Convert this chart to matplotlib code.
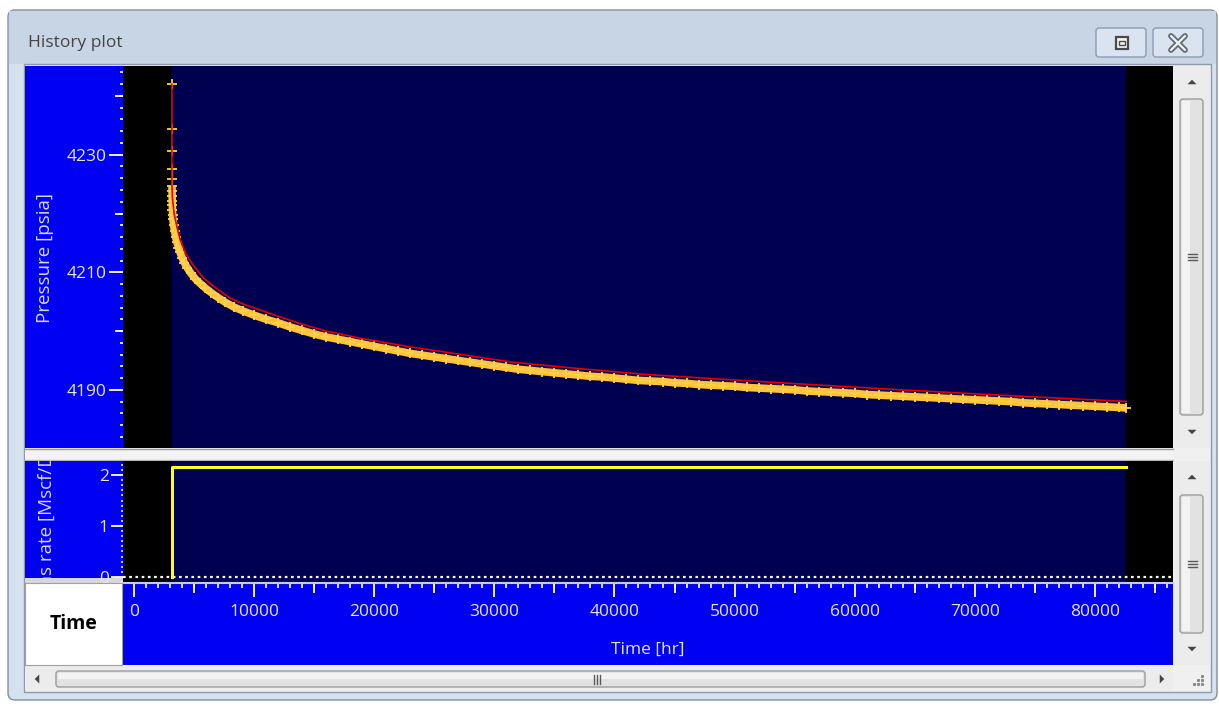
import numpy as np
import matplotlib.pyplot as plt
from matplotlib.patches import Rectangle, FancyBboxPatch, Polygon
from matplotlib.ticker import MultipleLocator

# ===================== data =====================
# gas rate history (hr, Mscf/D)
rate_time = [3150, 3150, 82600]
rate_value = [0.0, 2.16, 2.16]

# simulated pressure response (hr, psia)
model_time = [3150, 3155, 3200, 3350, 3580, 3830, 4300, 4900, 5800, 6900,
              8000, 9200, 10500, 12000, 13200, 14600, 16000, 18800, 22700,
              26300, 31500, 37100, 42700, 48200, 53800, 58800, 63800, 69300,
              74900, 81800, 82600]
model_pressure = [4242.0, 4225.0, 4222.6, 4219.8, 4217.7, 4215.6, 4213.2,
                  4211.3, 4209.0, 4207.2, 4205.6, 4204.5, 4203.6, 4202.5,
                  4201.7, 4200.8, 4200.0, 4198.8, 4197.4, 4196.3, 4194.7,
                  4193.6, 4192.6, 4191.9, 4191.2, 4190.6, 4190.0, 4189.4,
                  4188.8, 4188.1, 4188.0]

# measured gauge pressure (hr, psia)
gauge_time = [3150, 3152, 3155, 3158, 3162, 3166, 3170, 3175, 3180, 3190,
              3200, 3215, 3240, 3300, 3380, 3470, 3580, 3700, 3830, 4000,
              4200, 4450, 4750, 5100, 5500, 5950, 6450, 7000, 7600, 8300,
              9100, 10000, 11000, 12000, 13000, 14000, 15000, 16000, 17000,
              18000, 19000, 20000, 21000, 22000, 23000, 24000, 25000, 26000,
              27000, 28000, 29000, 30000, 31000, 32000, 33000, 34000, 35000,
              36000, 37000, 38000, 39000, 40000, 41000, 42000, 43000, 44000,
              45000, 46000, 47000, 48000, 49000, 50000, 51000, 52000, 53000,
              54000, 55000, 56000, 57000, 58000, 59000, 60000, 61000, 62000,
              63000, 64000, 65000, 66000, 67000, 68000, 69000, 70000, 71000,
              72000, 73000, 74000, 75000, 76000, 77000, 78000, 79000, 80000,
              81000, 82000, 82600]
gauge_pressure = [4242.0, 4234.4, 4230.7, 4227.6, 4225.9, 4224.7, 4223.8,
                  4223.0, 4222.2, 4221.4, 4220.6, 4219.8, 4219.0, 4218.0,
                  4217.0, 4216.0, 4215.1, 4214.2, 4213.4, 4212.5, 4211.6,
                  4210.7, 4209.8, 4208.9, 4208.1, 4207.3, 4206.5, 4205.7,
                  4204.9, 4204.1, 4203.4, 4202.7, 4202.0, 4201.4, 4200.7,
                  4200.1, 4199.5, 4199.0, 4198.6, 4198.2, 4197.8, 4197.4,
                  4197.0, 4196.6, 4196.2, 4195.9, 4195.6, 4195.3, 4195.0,
                  4194.7, 4194.4, 4194.1, 4193.8, 4193.5, 4193.3, 4193.1,
                  4192.9, 4192.7, 4192.5, 4192.3, 4192.2, 4192.0, 4191.8,
                  4191.6, 4191.5, 4191.4, 4191.2, 4191.1, 4190.9, 4190.8,
                  4190.7, 4190.6, 4190.4, 4190.3, 4190.2, 4190.1, 4190.0,
                  4189.8, 4189.7, 4189.6, 4189.5, 4189.4, 4189.2, 4189.1,
                  4189.0, 4188.9, 4188.8, 4188.7, 4188.6, 4188.5, 4188.4,
                  4188.3, 4188.2, 4188.1, 4188.0, 4187.8, 4187.7, 4187.6,
                  4187.5, 4187.4, 4187.3, 4187.2, 4187.1, 4187.0, 4186.9]

time_ticks = [0, 10000, 20000, 30000, 40000, 50000, 60000, 70000, 80000]
pressure_ticks = [4190, 4210, 4230]
rate_ticks = [0, 1, 2]
# =================================================

W, H = 1219, 709
PX = 0.72  # points per pixel at dpi 100

BLUE = '#0000f2'
NAVY = '#000050'
TICKTXT = '#e4e4ff'
plt.rcParams['font.family'] = ['Open Sans', 'DejaVu Sans']


def box(x0, y0, x1, y1):
    """pixel box (top-left origin) -> figure fraction rect"""
    return [x0 / W, 1 - y1 / H, (x1 - x0) / W, (y1 - y0) / H]


fig = plt.figure(figsize=(W / 100, H / 100), dpi=100, facecolor='white')

# ---------- window frame ----------
bg = fig.add_axes([0, 0, 1, 1])
bg.set_xlim(0, W)
bg.set_ylim(H, 0)
bg.axis('off')


def rect(x0, y0, x1, y1, fc, ec='none', lw=0, z=1):
    bg.add_patch(Rectangle((x0, y0), x1 - x0, y1 - y0, facecolor=fc,
                           edgecolor=ec, lw=lw, zorder=z))


bg.add_patch(FancyBboxPatch((8, 10), 1209, 690,
                            boxstyle='round,pad=0,rounding_size=7',
                            fc='#d5e1ee', ec='#7f8fa2', lw=1, zorder=0))
rect(9, 11, 1216, 64, '#c7d5e5')
rect(24, 64, 1211, 692, '#f0f0f0', ec='#8c9aab', lw=1)
bg.text(28, 43, 'History plot', fontsize=12.5, color='#454545', va='center')

# title bar buttons
for bx in (1096, 1153):
    bg.add_patch(FancyBboxPatch((bx, 28), 50, 29,
                                boxstyle='round,pad=0,rounding_size=3',
                                fc='#d9e4f0', ec='#8a9cb2', lw=1, zorder=2))
rect(1116, 37, 1128, 49, '#f4f4f4', ec='#4a4a4a', lw=1.6, z=3)
rect(1119, 41, 1125, 45, '#f4f4f4', ec='#4a4a4a', lw=1.0, z=3)
for (xa, ya, xb, yb) in [(1171, 36, 1185, 50), (1171, 50, 1185, 36)]:
    bg.plot([xa, xb], [ya, yb], color='#5f6b78', lw=4.2, solid_capstyle='round', zorder=3)
    bg.plot([xa, xb], [ya, yb], color='#f2f4f6', lw=1.6, solid_capstyle='round', zorder=4)

# label columns and axis strip
rect(25, 66, 123, 448, BLUE, z=2)
rect(25, 448, 1173, 461, '#f3f3f3', z=2)
bg.plot([25, 1173], [449, 449], color='#9a9a9a', lw=1, zorder=3)
bg.plot([25, 1173], [460, 460], color='#b8b8b8', lw=1, zorder=3)
rect(25, 578, 123, 583, '#d8d8d8', z=2)
rect(123, 583, 1173, 665, BLUE, z=2)
bg.text(45, 258, 'Pressure [psia]', rotation=90, fontsize=13.5,
        color='#d6d6ff', ha='center', va='center', zorder=4)


# scrollbars
def arrow(xc, yc, d, s=4.5):
    if d == 'up':
        pts = [(xc - s, yc + s / 2), (xc + s, yc + s / 2), (xc, yc - s / 2)]
    elif d == 'down':
        pts = [(xc - s, yc - s / 2), (xc + s, yc - s / 2), (xc, yc + s / 2)]
    elif d == 'left':
        pts = [(xc + s / 2, yc - s), (xc + s / 2, yc + s), (xc - s / 2, yc)]
    else:
        pts = [(xc - s / 2, yc - s), (xc - s / 2, yc + s), (xc + s / 2, yc)]
    bg.add_patch(Polygon(pts, closed=True, fc='#454545', ec='none', zorder=5))


def vscroll(y0, y1, t0, t1):
    rect(1174, y0, 1210, y1, '#ececec', z=2)
    bg.add_patch(FancyBboxPatch((1180, t0), 23, t1 - t0,
                                boxstyle='round,pad=0,rounding_size=3',
                                fc='#e2e2e2', ec='#9c9c9c', lw=1, zorder=3))
    rect(1182, t0 + 2, 1190, t1 - 2, '#f3f3f3', z=4)
    arrow(1192, y0 + 16, 'up')
    arrow(1192, y1 - 16, 'down')
    ym = (t0 + t1) / 2
    for dy in (-3, 0, 3):
        bg.plot([1188, 1197], [ym + dy, ym + dy], color='#5a5a5a', lw=1, zorder=5)


vscroll(66, 448, 99, 415)
vscroll(461, 665, 495, 633)

rect(25, 666, 1173, 690, '#ececec', z=2)
bg.add_patch(FancyBboxPatch((56, 671), 1089, 16,
                            boxstyle='round,pad=0,rounding_size=3',
                            fc='#e2e2e2', ec='#9c9c9c', lw=1, zorder=3))
rect(58, 673, 1143, 679, '#f3f3f3', z=4)
arrow(37, 679, 'left')
arrow(1162, 679, 'right')
for dx in (-3, 0, 3):
    bg.plot([597 + dx, 597 + dx], [675, 684], color='#5a5a5a', lw=1, zorder=5)
for (gx, gy) in [(1202, 676), (1198, 680), (1202, 680), (1194, 684), (1198, 684), (1202, 684)]:
    bg.plot(gx, gy, 's', ms=1.2, color='#8a8a8a', zorder=5)

# ---------- pressure panel ----------
t_start, t_end = rate_time[0], rate_time[-1]
xlim = (-915, 86500)

axp = fig.add_axes(box(123, 66, 1173, 448))
axp.set_facecolor(NAVY)
axp.set_xlim(*xlim)
axp.set_ylim(4180.1, 4245.1)
axp.axvspan(xlim[0], t_start, color='black', lw=0, zorder=0)
axp.axvspan(t_end, xlim[1], color='black', lw=0, zorder=0)
# first few gauge readings are sparse, the dense band starts after them
axp.plot(gauge_time[5:], gauge_pressure[5:], color='#ffc23a', lw=5.5, zorder=2,
         solid_capstyle='butt')
axp.plot(gauge_time, gauge_pressure, '+', color='#ffd24a', ms=7.5, mew=1.3, zorder=3)
axp.plot(model_time, model_pressure, color='#e40000', lw=1.2, zorder=4)
for s in axp.spines.values():
    s.set_visible(False)
axp.set_xticks([])
axp.set_yticks(pressure_ticks)
axp.yaxis.set_minor_locator(MultipleLocator(2))
axp.tick_params(axis='y', which='major', direction='out', length=14 * PX,
                width=1.3, color='white', labelcolor=TICKTXT, labelsize=12.5, pad=1.5)
axp.tick_params(axis='y', which='minor', direction='out', length=3 * PX,
                width=1.2, color='white')
secp = axp.secondary_yaxis('left')
secp.set_yticks([4200, 4220, 4240])
secp.tick_params(length=8 * PX, width=1.3, color='white', labelleft=False)
secp.spines['left'].set_visible(False)

# ---------- gas rate panel ----------
lab = fig.add_axes(box(25, 461, 123, 578))
lab.set_facecolor(BLUE)
lab.set_xticks([])
lab.set_yticks([])
for s in lab.spines.values():
    s.set_visible(False)
lab.text((47 - 25) / 98, 0.47, 'Gas rate [Mscf/D]', rotation=90, fontsize=13.5,
         color='#d6d6ff', ha='center', va='center', transform=lab.transAxes,
         clip_on=True)

axq = fig.add_axes(box(123, 461, 1173, 583))
axq.set_facecolor(NAVY)
axq.set_xlim(*xlim)
axq.set_ylim(-0.118, 2.275)
axq.axvspan(xlim[0], t_start, color='black', lw=0, zorder=0)
axq.axvspan(t_end, xlim[1], color='black', lw=0, zorder=0)
axq.axhline(0, color='white', lw=1.6, ls=(0, (1.2, 1.6)), zorder=2)
axq.plot(rate_time, rate_value, color='#ffff1e', lw=2.2, zorder=3)
for k in ('top', 'right', 'left'):
    axq.spines[k].set_visible(False)
axq.spines['bottom'].set_color('#c8c8ee')
axq.spines['bottom'].set_linewidth(1.5)
axq.set_yticks(rate_ticks)
axq.yaxis.set_minor_locator(MultipleLocator(0.1))
axq.tick_params(axis='y', which='major', direction='out', length=12 * PX,
                width=1.3, color='white', labelcolor=TICKTXT, labelsize=12.5, pad=1.5)
axq.tick_params(axis='y', which='minor', direction='out', length=2.5 * PX,
                width=1.1, color='white')
axq.set_xticks(time_ticks)
axq.xaxis.set_minor_locator(MultipleLocator(1000))
axq.tick_params(axis='x', which='major', direction='out', length=14 * PX,
                width=1.3, color='white', labelcolor=TICKTXT, labelsize=12.5, pad=5)
axq.tick_params(axis='x', which='minor', direction='out', length=5 * PX,
                width=1.2, color='white')
secq = axq.secondary_xaxis('bottom')
secq.set_xticks([5000, 15000, 25000, 35000, 45000, 55000, 65000, 75000, 85000])
secq.tick_params(length=10 * PX, width=1.3, color='white', labelbottom=False)
secq.spines['bottom'].set_visible(False)
axq.set_xlabel('Time [hr]', fontsize=12.5, color=TICKTXT, labelpad=16)

# "Time" selector cell
tbox = fig.add_axes(box(25, 583, 122, 665))
tbox.set_facecolor('white')
tbox.set_xticks([])
tbox.set_yticks([])
for s in tbox.spines.values():
    s.set_color('#a0a0a0')
tbox.text(0.5, 0.5, 'Time', fontsize=14, fontweight='bold', color='black',
          ha='center', va='center', transform=tbox.transAxes)

fig.savefig('out.png', dpi=100, facecolor='white')
